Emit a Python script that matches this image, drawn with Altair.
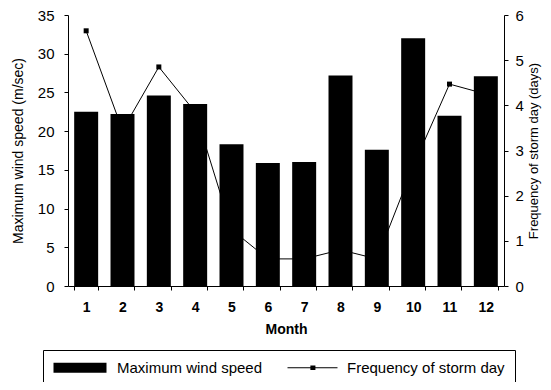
import altair as alt
import pandas as pd

# ---- data ----
months = ["1", "2", "3", "4", "5", "6", "7", "8", "9", "10", "11", "12"]
wind_speed = [22.5, 22.2, 24.6, 23.5, 18.3, 15.9, 16.0, 27.2, 17.6, 32.0, 22.0, 27.1]
storm_days = [5.65, 3.45, 4.85, 3.85, 1.25, 0.6, 0.6, 0.8, 0.6, 2.65, 4.47, 4.25]
series_names = ["Maximum wind speed", "Frequency of storm day"]
wind_ticks = [0, 5, 10, 15, 20, 25, 30, 35]
storm_ticks = [0, 1, 2, 3, 4, 5, 6]

df = pd.DataFrame({"month": months, "wind": wind_speed, "storm": storm_days})
legend_df = pd.DataFrame({"series": series_names})

FONT = "Liberation Sans"

x_enc = alt.X(
    "month:O",
    sort=months,
    scale=alt.Scale(paddingInner=0.34, paddingOuter=0.17),
    axis=alt.Axis(
        title="Month", labelAngle=0, tickBand="extent",
        labelFont=FONT, labelFontSize=14, labelFontWeight="bold", labelColor="black",
        labelPadding=10, tickSize=4, tickColor="black", domainColor="black",
        titleFont=FONT, titleFontSize=14, titleFontWeight="bold", titleColor="black",
        titlePadding=8,
    ),
)

storm_scale = alt.Scale(domain=[0, 6], nice=False, zero=True)
storm_axis = alt.Axis(
    orient="right", values=storm_ticks, grid=False,
    title="Frequency of storm day (days)", titleAngle=270, titleBaseline="top",
    labelFont=FONT, labelFontSize=15, labelColor="black", labelPadding=7,
    tickSize=4, tickColor="black", domainColor="black",
    titleFont=FONT, titleFontSize=13, titleFontWeight="normal", titleColor="black",
    titlePadding=4,
)
storm_y = alt.Y("storm:Q", scale=storm_scale, axis=storm_axis)

line = alt.Chart(df).mark_line(color="black", strokeWidth=1).encode(x=x_enc, y=storm_y)
points = alt.Chart(df).mark_point(shape="square", filled=True, color="black", size=25, opacity=1).encode(
    x=x_enc,
    y=storm_y,
)
storm_layer = alt.layer(line, points)

bars = alt.Chart(df).mark_bar(color="black").encode(
    x=x_enc,
    y=alt.Y(
        "wind:Q",
        scale=alt.Scale(domain=[0, 35], nice=False),
        axis=alt.Axis(
            orient="left", values=wind_ticks, grid=False,
            title="Maximum wind speed (m/sec)",
            labelFont=FONT, labelFontSize=15, labelColor="black", labelPadding=10,
            tickSize=4, tickColor="black", domainColor="black",
            titleFont=FONT, titleFontSize=14, titleFontWeight="normal", titleColor="black",
            titlePadding=12,
        ),
    ),
)

# legend symbols (unit = 7 px): a wide filled block, and a thin line with a small square
path_bar = "M-1,-0.714L6.571,-0.714L6.571,0.714L-1,0.714Z"
path_line = ("M-0.429,-0.06L6.714,-0.06L6.714,0.06L-0.429,0.06Z"
             "M2.84,-0.33L3.56,-0.33L3.56,0.33L2.84,0.33Z")

legend_layer = alt.Chart(legend_df).transform_filter("false").mark_point(
    filled=True, fill="black", stroke="black", strokeWidth=1
).encode(
    shape=alt.Shape(
        "series:N",
        sort=series_names,
        scale=alt.Scale(domain=series_names, range=[path_bar, path_line]),
        legend=alt.Legend(
            title=None, orient="none", legendX=-25, legendY=335, direction="horizontal",
            strokeColor="black", fillColor="white", padding=10,
            symbolSize=196, symbolFillColor="black", symbolStrokeColor="black",
            symbolStrokeWidth=1, symbolOpacity=1,
            labelFont=FONT, labelFontSize=15, labelColor="black", labelOffset=49,
            labelLimit=0, columnPadding=20,
        ),
    )
)

chart = (
    alt.layer(storm_layer, bars, legend_layer)
    .resolve_scale(y="independent")
    .properties(
        width=436,
        height=271,
        autosize=alt.AutoSizeParams(type="none"),
        padding={"left": 60, "top": 7, "right": 39, "bottom": 96},
    )
    .configure_view(stroke=None)
    .configure_axis(domainWidth=1, tickWidth=1)
)

chart.save("out.html", embed_options={"renderer": "svg", "actions": False})
